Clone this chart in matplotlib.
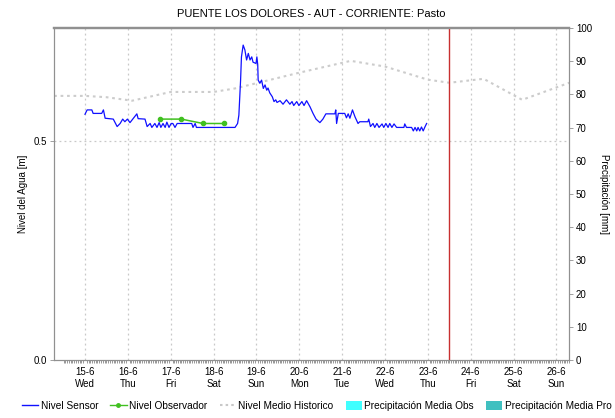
import matplotlib
matplotlib.use("Agg")
import matplotlib.pyplot as plt
from matplotlib.lines import Line2D
from matplotlib.patches import Patch
import numpy as np

plt.rcParams['font.family'] = ['Liberation Sans', 'DejaVu Sans']

title = "PUENTE LOS DOLORES - AUT - CORRIENTE: Pasto"

# x values are day-of-month (June)
sensor_day = [15.00, 15.05, 15.16, 15.19, 15.39, 15.43, 15.47, 15.66, 15.75, 15.82, 15.88, 15.93,
              15.99, 16.05, 16.13, 16.21, 16.24, 16.40, 16.45, 16.52, 16.56, 16.63, 16.68, 16.73,
              16.77, 16.82, 16.87, 16.91, 16.96, 17.01, 17.05, 17.10, 17.15, 17.22, 17.49, 17.52,
              17.57, 17.60, 18.50, 18.56, 18.59, 18.63, 18.65, 18.69, 18.73, 18.77, 18.81, 18.85,
              18.89, 18.92, 18.99, 19.01, 19.03, 19.04, 19.08, 19.12, 19.16, 19.20, 19.24, 19.27,
              19.31, 19.37, 19.41, 19.45, 19.48, 19.55, 19.62, 19.70, 19.78, 19.83, 19.87, 19.94,
              19.99, 20.06, 20.11, 20.17, 20.25, 20.32, 20.39, 20.48, 20.55, 20.62, 20.83, 20.85,
              20.87, 20.91, 21.06, 21.10, 21.14, 21.18, 21.24, 21.30, 21.37, 21.41, 21.60, 21.62,
              21.66, 21.72, 21.76, 21.81, 21.86, 21.93, 21.97, 22.02, 22.07, 22.11, 22.16, 22.21,
              22.27, 22.44, 22.46, 22.50, 22.62, 22.66, 22.70, 22.74, 22.77, 22.81, 22.85, 22.89,
              22.93, 22.97]
sensor_level = [0.561, 0.571, 0.571, 0.563, 0.563, 0.571, 0.552, 0.550, 0.533, 0.540, 0.550, 0.544,
                0.550, 0.542, 0.552, 0.562, 0.551, 0.550, 0.533, 0.540, 0.531, 0.540, 0.531, 0.542,
                0.531, 0.540, 0.531, 0.543, 0.531, 0.540, 0.540, 0.531, 0.540, 0.540, 0.540, 0.531,
                0.540, 0.531, 0.531, 0.540, 0.559, 0.639, 0.692, 0.719, 0.708, 0.685, 0.700, 0.685,
                0.692, 0.680, 0.677, 0.692, 0.674, 0.639, 0.632, 0.639, 0.620, 0.628, 0.616, 0.621,
                0.610, 0.601, 0.590, 0.594, 0.588, 0.592, 0.584, 0.594, 0.584, 0.590, 0.581, 0.590,
                0.581, 0.590, 0.581, 0.592, 0.578, 0.563, 0.550, 0.542, 0.550, 0.562, 0.562, 0.571,
                0.540, 0.563, 0.563, 0.553, 0.562, 0.552, 0.571, 0.555, 0.540, 0.544, 0.544, 0.550,
                0.533, 0.540, 0.531, 0.540, 0.531, 0.539, 0.531, 0.540, 0.531, 0.540, 0.531, 0.539,
                0.531, 0.531, 0.539, 0.531, 0.531, 0.523, 0.531, 0.523, 0.531, 0.523, 0.532, 0.523,
                0.532, 0.540]

observer_day = [16.75, 17.25, 17.75, 18.25]
observer_level = [0.550, 0.550, 0.540, 0.540]

historic_day = [14.28, 15.0, 15.5, 16.1, 17.0, 18.0, 18.5, 19.0, 20.0, 21.2, 22.0, 23.0, 23.5, 24.3, 25.2, 26.3]
historic_level = [0.603, 0.603, 0.600, 0.592, 0.612, 0.612, 0.620, 0.632, 0.656, 0.683, 0.670, 0.640,
                  0.633, 0.642, 0.594, 0.633]

now_day = 23.5

tick_days = [15, 16, 17, 18, 19, 20, 21, 22, 23, 24, 25, 26]
tick_labels = ["15-6\nWed", "16-6\nThu", "17-6\nFri", "18-6\nSat", "19-6\nSun", "20-6\nMon",
               "21-6\nTue", "22-6\nWed", "23-6\nThu", "24-6\nFri", "25-6\nSat", "26-6\nSun"]

W, H = 615, 418
fig = plt.figure(figsize=(W / 100, H / 100), dpi=100)
left, right, top, bottom = 54, 569, 28, 360
ax = fig.add_axes([left / W, 1 - bottom / H, (right - left) / W, (bottom - top) / H])
ax2 = ax.twinx()

spine_col = "#909090"
grid_col = "#c8c8c8"

ax.set_xlim(14.277, 26.287)
ax.set_ylim(0, 0.758)
ax2.set_ylim(0, 100)

for d in tick_days:
    ax.axvline(d, color=grid_col, linestyle=(0, (1.5, 2.5)), linewidth=0.9, zorder=1)
ax.axhline(0.5, color=grid_col, linestyle=(0, (1.5, 2.5)), linewidth=0.9, zorder=1)

ax.plot(historic_day, historic_level, color="#cccccc", linestyle=(0, (1.3, 1.8)), linewidth=1.5, zorder=2)
ax.axvline(now_day, color="#c83030", linewidth=1.0, zorder=3)
ax.plot(sensor_day, sensor_level, color="#1010ff", linewidth=0.9, zorder=4)
ax.plot(observer_day, observer_level, color="#40c020", linewidth=1.1, marker="o", markersize=3, zorder=5)

ax.set_xticks(tick_days)
ax.set_xticklabels(tick_labels, fontsize=7)
ax.set_xticks(np.arange(14.5, 26.3, 1 / 24), minor=True)
ax.tick_params(axis='x', which='major', length=0, pad=5)
ax.tick_params(axis='x', which='minor', length=2, width=0.5, color="#707070")

ax.set_yticks([0.0, 0.5])
ax.set_yticklabels(["0.0", "0.5"], fontsize=7)
ax.tick_params(axis='y', length=3, width=0.6, color=spine_col, pad=2)
ax2.set_yticks(np.arange(0, 101, 10))
ax2.tick_params(axis='y', length=3, width=0.6, color=spine_col, pad=2, labelsize=7)

for a in (ax, ax2):
    for s in a.spines.values():
        s.set_color(spine_col)
        s.set_linewidth(0.8)
ax2.spines['top'].set_linewidth(1.6)
ax.spines['top'].set_linewidth(1.6)

ax.set_ylabel("Nivel del Agua [m]", fontsize=7, labelpad=4)
ax2.set_ylabel("Precipitación [mm]", fontsize=7, rotation=270, labelpad=12)

fig.text((left + right) / 2 / W, 1 - 14 / H, title, ha="center", va="center", fontsize=8)

handles = [
    Line2D([], [], color="#1010ff", linewidth=1),
    Line2D([], [], color="#40c020", linewidth=1, marker="o", markersize=2.5),
    Line2D([], [], color="#c8c8c8", linewidth=1.5, linestyle=(0, (1.2, 1.5))),
    Patch(facecolor="#40ffff", edgecolor="none"),
    Patch(facecolor="#40c0c0", edgecolor="none"),
]
labels = ["Nivel Sensor", "Nivel Observador", "Nivel Medio Historico",
          "Precipitación Media Obs", "Precipitación Media Pro"]
fig.legend(handles, labels, loc="center", bbox_to_anchor=(0.515, 1 - 406 / H), ncol=5,
           frameon=False, fontsize=7.3, handlelength=1.6, handletextpad=0.25, columnspacing=1.2,
           handleheight=0.9)

fig.savefig("out.png", dpi=100)
